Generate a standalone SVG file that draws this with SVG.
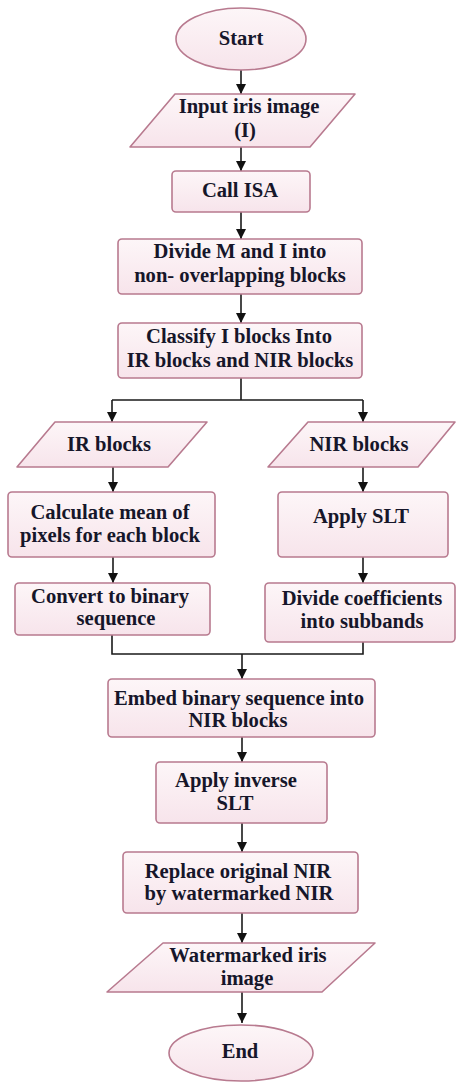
<svg xmlns="http://www.w3.org/2000/svg" width="456" height="1083" viewBox="0 0 456 1083">
  <style>
    .box { fill: url(#pinkFill); stroke: #b87a8f; stroke-width: 1.6; stroke-linejoin: round; }
    .lbl { font-family: "Liberation Serif", "Times New Roman", serif; font-weight: bold; font-size: 20.6px; fill: #16162a; text-anchor: middle; }
    .wire { fill: none; stroke: #1a1a1a; stroke-width: 1.6; }
  </style>
  <defs>
    <linearGradient id="pinkFill" x1="0" y1="0" x2="0" y2="1">
      <stop offset="0" stop-color="#fdf6f8"/>
      <stop offset="1" stop-color="#f7e4eb"/>
    </linearGradient>
    <marker id="arrow" viewBox="0 0 10 10" refX="10" refY="5" markerWidth="10" markerHeight="10" markerUnits="userSpaceOnUse" orient="auto">
      <path d="M0,0 L10,5 L0,10 z" fill="#111"/>
    </marker>
  </defs>
  <rect width="456" height="1083" fill="#ffffff"/>

  <!-- connectors -->
  <g id="connectors">
    <path class="wire" d="M241,70 V94" marker-end="url(#arrow)"/>
    <path class="wire" d="M241,147 V171" marker-end="url(#arrow)"/>
    <path class="wire" d="M241,212 V239" marker-end="url(#arrow)"/>
    <path class="wire" d="M241,294 V323" marker-end="url(#arrow)"/>
    <path class="wire" d="M241,378 V400 M112,400 H363"/>
    <path class="wire" d="M112,400 V422" marker-end="url(#arrow)"/>
    <path class="wire" d="M363,400 V422" marker-end="url(#arrow)"/>
    <path class="wire" d="M113,467 V492" marker-end="url(#arrow)"/>
    <path class="wire" d="M113,557 V583" marker-end="url(#arrow)"/>
    <path class="wire" d="M363,467 V492" marker-end="url(#arrow)"/>
    <path class="wire" d="M363,557 V583" marker-end="url(#arrow)"/>
    <path class="wire" d="M112,635 V654 H363 V642"/>
    <path class="wire" d="M242,654 V679" marker-end="url(#arrow)"/>
    <path class="wire" d="M242,737 V762" marker-end="url(#arrow)"/>
    <path class="wire" d="M242,823 V852" marker-end="url(#arrow)"/>
    <path class="wire" d="M242,913 V943" marker-end="url(#arrow)"/>
    <path class="wire" d="M242,992 V1023" marker-end="url(#arrow)"/>
  </g>

  <g id="start">
    <ellipse class="box" cx="241" cy="39" rx="65" ry="31"/>
    <text class="lbl" x="241" y="45">Start</text>
  </g>

  <g id="input">
    <path class="box" d="M175,94 H355 L310,147 H130 Z"/>
    <text class="lbl" x="249" y="113">Input iris image</text>
    <text class="lbl" x="245" y="137">(I)</text>
  </g>

  <g id="call-isa">
    <rect class="box" x="172" y="171" width="138" height="41" rx="4"/>
    <text class="lbl" x="240" y="197">Call ISA</text>
  </g>

  <g id="divide-blocks">
    <rect class="box" x="118" y="239" width="244" height="55" rx="4"/>
    <text class="lbl" x="240" y="258">Divide M and I into</text>
    <text class="lbl" x="240" y="282">non- overlapping blocks</text>
  </g>

  <g id="classify">
    <rect class="box" x="118" y="323" width="244" height="55" rx="4"/>
    <text class="lbl" x="239" y="343">Classify I blocks Into</text>
    <text class="lbl" x="240" y="367">IR blocks and NIR blocks</text>
  </g>

  <g id="ir-blocks">
    <path class="box" d="M55,422 H207 L168,467 H17 Z"/>
    <text class="lbl" x="109" y="451">IR blocks</text>
  </g>

  <g id="nir-blocks">
    <path class="box" d="M308,422 H455 L418,467 H268 Z"/>
    <text class="lbl" x="359" y="451">NIR blocks</text>
  </g>

  <g id="calc-mean">
    <rect class="box" x="8" y="492" width="207" height="65" rx="4"/>
    <text class="lbl" x="110" y="519">Calculate mean of</text>
    <text class="lbl" x="110" y="542">pixels for each block</text>
  </g>

  <g id="apply-slt">
    <rect class="box" x="278" y="492" width="170" height="65" rx="4"/>
    <text class="lbl" x="361" y="523">Apply SLT</text>
  </g>

  <g id="convert-binary">
    <rect class="box" x="15" y="583" width="195" height="52" rx="4"/>
    <text class="lbl" x="110" y="603">Convert to binary</text>
    <text class="lbl" x="116" y="625">sequence</text>
  </g>

  <g id="divide-coeff">
    <rect class="box" x="265" y="583" width="190" height="59" rx="4"/>
    <text class="lbl" x="362" y="605">Divide coefficients</text>
    <text class="lbl" x="362" y="628">into subbands</text>
  </g>

  <g id="embed">
    <rect class="box" x="108" y="679" width="267" height="58" rx="4"/>
    <text class="lbl" x="239" y="705">Embed binary sequence into</text>
    <text class="lbl" x="238" y="727">NIR blocks</text>
  </g>

  <g id="inverse-slt">
    <rect class="box" x="156" y="762" width="171" height="61" rx="4"/>
    <text class="lbl" x="236" y="787">Apply inverse</text>
    <text class="lbl" x="235" y="810">SLT</text>
  </g>

  <g id="replace">
    <rect class="box" x="123" y="852" width="235" height="61" rx="4"/>
    <text class="lbl" x="238" y="878">Replace original NIR</text>
    <text class="lbl" x="239" y="900">by watermarked NIR</text>
  </g>

  <g id="watermarked">
    <path class="box" d="M163,943 H375 L322,992 H107 Z"/>
    <text class="lbl" x="248" y="962">Watermarked iris</text>
    <text class="lbl" x="247" y="985">image</text>
  </g>

  <g id="end">
    <ellipse class="box" cx="241" cy="1053" rx="72" ry="28"/>
    <text class="lbl" x="240" y="1058">End</text>
  </g>
</svg>
